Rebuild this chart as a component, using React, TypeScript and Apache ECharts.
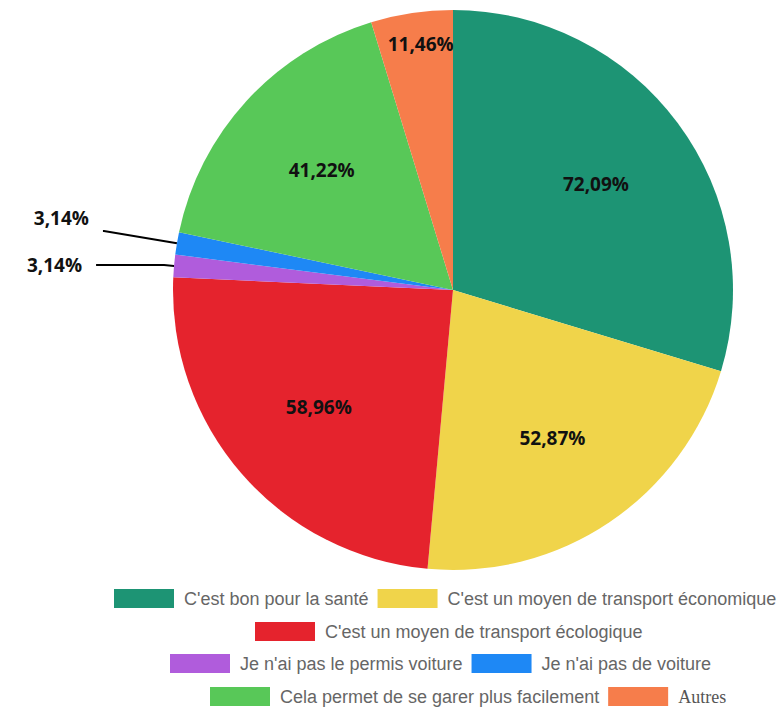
import React, { useEffect, useRef } from "react";
import * as echarts from "echarts";

const categories = [
  "C'est bon pour la santé",
  "C'est un moyen de transport économique",
  "C'est un moyen de transport écologique",
  "Je n'ai pas le permis voiture",
  "Je n'ai pas de voiture",
  "Cela permet de se garer plus facilement",
  "Autres",
];
const values = [72.09, 52.87, 58.96, 3.14, 3.14, 41.22, 11.46];
const colors = ["#1d9474", "#f0d44a", "#e5232d", "#b05cdc", "#1e88f5", "#58c858", "#f67d4b"];
const legendRows = [[0, 1], [2], [3, 4], [5, 6]];
const legendLefts = [109, 250, 165, 205];
const legendTops = [584, 617, 649, 682];

const fmt = (v: number) => v.toFixed(2).replace(".", ",") + "%";

export default function App() {
  const ref = useRef<HTMLDivElement>(null);
  useEffect(() => {
    if (!ref.current) return;
    const chart = echarts.init(ref.current, null, { renderer: "svg" });
    const labelStyle = {
      color: "#111",
      fontWeight: "bold" as const,
      fontSize: 19,
      fontFamily: "Open Sans",
    };
    chart.setOption({
      animation: false,
      backgroundColor: "#fff",
      color: colors,
      legend: legendRows.map((row, i) => ({
        left: legendLefts[i],
        top: legendTops[i],
        orient: "horizontal",
        itemWidth: 60,
        itemHeight: 19,
        itemGap: 9,
        icon: "rect",
        selectedMode: false,
        textStyle: {
          color: "#666",
          fontSize: 18,
          fontFamily: "Liberation Sans",
          padding: [0, 0, 0, 5],
        },
        data: row.map((idx) =>
          categories[idx] === "Autres"
            ? { name: categories[idx], textStyle: { fontFamily: "Liberation Serif", color: "#555", fontSize: 18 } }
            : { name: categories[idx] }
        ),
      })),
      series: [
        {
          type: "pie",
          center: [453, 290],
          radius: [0, 280],
          startAngle: 90,
          clockwise: true,
          avoidLabelOverlap: false,
          labelLayout: (p: any) => (p.dataIndex === 4 ? { dy: -13 } : {}),
          data: categories.map((name, i) => ({
            name,
            value: values[i],
            itemStyle: { color: colors[i] },
            label: values[i] < 5
              ? { show: true, position: "outside", formatter: () => fmt(values[i]), ...labelStyle, distanceToLabelLine: 14 }
              : { show: false },
            labelLine: values[i] < 5
              ? {
                  show: true,
                  length: i === 4 ? 74 : 10,
                  length2: i === 4 ? 1 : 68,
                  lineStyle: { color: "#000", width: 2 },
                }
              : { show: false },
          })),
        },
        {
          type: "pie",
          center: [453, 290],
          radius: [0, 350],
          startAngle: 90,
          clockwise: true,
          silent: true,
          avoidLabelOverlap: false,
          itemStyle: { color: "rgba(0,0,0,0)" },
          labelLayout: (p: any) => (p.dataIndex === 6 ? { dy: -70, dx: -6 } : {}),
          data: categories.map((name, i) => ({
            name,
            value: values[i],
            label: values[i] >= 5
              ? { show: true, position: "inside", formatter: () => fmt(values[i]), ...labelStyle }
              : { show: false },
            labelLine: { show: false },
          })),
        },
      ],
    });
    return () => chart.dispose();
  }, []);
  return (
    <div
      ref={ref}
      style={{ position: "fixed", left: 0, top: 0, width: 782, height: 707 }}
    />
  );
}
